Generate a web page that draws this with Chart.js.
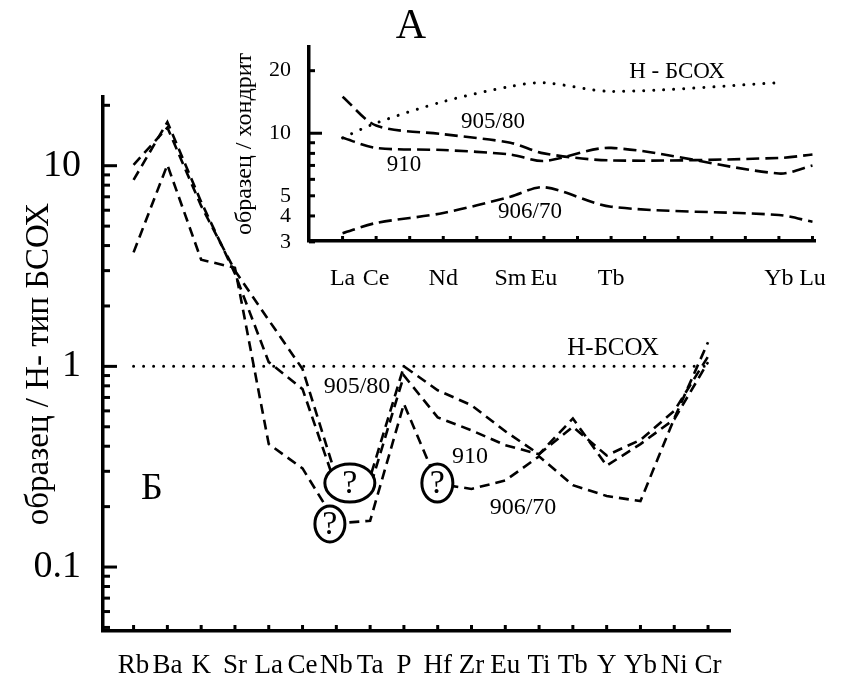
<!DOCTYPE html>
<html><head><meta charset="utf-8">
<script src="https://cdn.jsdelivr.net/npm/chart.js@4.4.1/dist/chart.umd.min.js"></script>
<style>
html,body{margin:0;padding:0;background:#fff;}
#wrap{position:relative;width:849px;height:690px;background:#fff;}
canvas{position:absolute;left:0;top:0;}
</style></head><body>
<div id="wrap"><canvas id="main" width="849" height="690"></canvas><canvas id="inset" width="849" height="690"></canvas></div>
<script>
// ---------- Main spidergram: sample / N-MORB ----------
const categories = ['Rb','Ba','K','Sr','La','Ce','Nb','Ta','P','Hf','Zr','Eu','Ti','Tb','Y','Yb','Ni','Cr'];
const sample905_80 = [10.1, 15.5, 6.3, 3.0, 1.7, 0.97, 0.28, 0.28, 1.0, 0.76, 0.64, 0.475, 0.365, 0.50, 0.36, 0.43, 0.60, 1.12];
const sample910    = [8.5, 16.5, 6.6, 2.9, 1.05, 0.77, 0.25, 0.25, 0.9, 0.557, 0.48, 0.405, 0.365, 0.55, 0.32, 0.41, 0.545, 1.05];
const sample906_70 = [3.7, 10.1, 3.4, 3.1, 0.41, 0.31, 0.165, 0.17, 0.65, 0.26, 0.245, 0.27, 0.356, 0.256, 0.226, 0.213, 0.55, 1.32];
const nmorbLevel   = [1, 1, 1, 1, 1, 1, 1, 1, 1, 1, 1, 1, 1, 1, 1, 1, 1, 1];
const mainYTicks   = [0.05, 0.06, 0.07, 0.08, 0.09, 0.1, 0.2, 0.3, 0.4, 0.5, 0.6, 0.7, 0.8, 0.9, 1, 2, 3, 4, 5, 6, 7, 8, 9, 10, 20];
const mainYLabels  = {'0.1': '0.1', '1': '1', '10': '10'};
const mainYMajor   = [0.1, 1, 10];

// ---------- Inset: sample / chondrite (REE) ----------
const reeAxis      = ['La','Ce','Pr','Nd','Pm','Sm','Eu','Gd','Tb','Dy','Ho','Er','Tm','Yb','Lu'];
const reeLabelled  = ['La','Ce','Nd','Sm','Eu','Tb','Yb','Lu'];
const ree905_80    = [15.0, 10.9, 9.9, 9.0, 8.0, 7.4, 7.6, 7.9];
const ree910       = [9.5, 8.5, 8.3, 7.9, 7.35, 8.5, 6.4, 7.0];
const ree906_70    = [3.3, 3.7, 4.13, 4.95, 5.5, 4.43, 4.04, 3.75];
const reeNMORB     = [9.5, 11.2, 14.2, 16.8, 17.5, 15.9, 17.5, null];
const insetYTicks  = [3, 4, 5, 6, 7, 8, 9, 10, 20];
const insetYLabels = {'3': '3', '4': '4', '5': '5', '10': '10', '20': '20'};

const SERIF = '"Liberation Serif", "Times New Roman", serif';

function pts(arr) { return arr.map((v, i) => ({x: i, y: v})); }
function reePts(arr) {
  return reeLabelled.map((el, j) => ({x: reeAxis.indexOf(el), y: arr[j]})).filter(p => p.y != null);
}
function dashed(label, data, dash, width, tension) {
  return {label, data, borderColor: '#000', borderWidth: width, borderDash: dash,
          pointRadius: 0, fill: false, tension: tension || 0, spanGaps: true, borderCapStyle: 'butt'};
}
function dotted(label, data, tension) {
  return {label, data, borderColor: '#000', borderWidth: 3, borderDash: [0.01, 10],
          borderCapStyle: 'round', pointRadius: 0, fill: false, tension: tension || 0, spanGaps: true};
}
function text(ctx, s, x, y, size) {
  ctx.save();
  ctx.fillStyle = '#000';
  ctx.font = size + 'px ' + SERIF;
  ctx.textAlign = 'center';
  ctx.textBaseline = 'middle';
  ctx.fillText(s, x, y);
  ctx.restore();
}

// ---- main chart decorations ----
const mainDeco = {
  id: 'mainDeco',
  afterDatasetsDraw(chart) {
    const {ctx, chartArea, scales: {x, y}} = chart;
    const marks = [
      {xi: 6.4, v: 0.262, rx: 25, ry: 19},
      {xi: 5.81, v: 0.164, rx: 15, ry: 18},
      {xi: 8.99, v: 0.262, rx: 15.5, ry: 19}
    ];
    marks.forEach(m => {
      const px = x.getPixelForValue(m.xi), py = y.getPixelForValue(m.v);
      ctx.save();
      ctx.beginPath();
      ctx.ellipse(px, py, m.rx, m.ry, 0, 0, Math.PI * 2);
      ctx.fillStyle = '#fff';
      ctx.fill();
      ctx.lineWidth = 3;
      ctx.strokeStyle = '#000';
      ctx.stroke();
      ctx.restore();
      text(ctx, '?', px, py + 1, 34);
    });
    ctx.save();
    ctx.strokeStyle = '#000';
    ctx.lineWidth = 3;
    y.ticks.forEach(t => {
      const py = y.getPixelForValue(t.value);
      const len = mainYMajor.includes(t.value) ? 14 : 7;
      ctx.beginPath(); ctx.moveTo(chartArea.left, py); ctx.lineTo(chartArea.left + len, py); ctx.stroke();
    });
    x.ticks.forEach(t => {
      const px = x.getPixelForValue(t.value);
      ctx.beginPath(); ctx.moveTo(px, chartArea.bottom); ctx.lineTo(px, chartArea.bottom - 6); ctx.stroke();
    });
    ctx.restore();
    text(ctx, '905/80', 357, 387, 24);
    text(ctx, '910', 470, 457, 24);
    text(ctx, '906/70', 523, 508, 24);
    text(ctx, 'Н-БСОХ', 613, 348, 25);
    text(ctx, 'Б', 152, 489, 38);
  }
};

new Chart(document.getElementById('main'), {
  type: 'line',
  data: {
    datasets: [
      dotted('Н-БСОХ', pts(nmorbLevel)),
      dashed('905/80', pts(sample905_80), [10, 6], 2.6),
      dashed('910', pts(sample910), [10, 6], 2.6),
      dashed('906/70', pts(sample906_70), [10, 6], 2.6)
    ]
  },
  options: {
    responsive: false, animation: false, devicePixelRatio: 1,
    layout: {padding: {left: 0, top: 97, right: 119, bottom: 0}},
    plugins: {legend: {display: false}, tooltip: {enabled: false}},
    scales: {
      x: {
        type: 'linear', min: -0.905, max: 17.65,
        afterBuildTicks: s => { s.ticks = categories.map((c, i) => ({value: i})); },
        afterFit: s => { s.height = 59; },
        grid: {display: true, drawOnChartArea: false, drawTicks: false},
        border: {display: true, width: 3.5, color: '#000'},
        ticks: {callback: v => categories[v] ?? '', autoSkip: false, maxRotation: 0, minRotation: 0,
                padding: 19, color: '#000', font: {family: SERIF, size: 27}}
      },
      y: {
        type: 'logarithmic', min: 0.048, max: 22,
        afterBuildTicks: s => { s.ticks = mainYTicks.map(v => ({value: v})); },
        afterFit: s => { s.width = 103; },
        grid: {display: true, drawOnChartArea: false, drawTicks: false},
        border: {display: true, width: 3.5, color: '#000'},
        ticks: {callback: v => mainYLabels[String(v)] ?? '', autoSkip: false, padding: 22,
                color: '#000', font: {family: SERIF, size: 38}},
        title: {display: true, text: 'образец / Н- тип БСОХ', color: '#000',
                font: {family: SERIF, size: 33}, padding: {top: 20, bottom: 0}}
      }
    }
  },
  plugins: [mainDeco]
});

// ---- inset decorations ----
const insetDeco = {
  id: 'insetDeco',
  afterDatasetsDraw(chart) {
    const {ctx, chartArea, scales: {x, y}} = chart;
    ctx.save();
    ctx.strokeStyle = '#000';
    ctx.lineWidth = 3;
    y.ticks.forEach(t => {
      const py = y.getPixelForValue(t.value);
      const len = t.value === 10 ? 13 : 6;
      ctx.beginPath(); ctx.moveTo(chartArea.left, py); ctx.lineTo(chartArea.left + len, py); ctx.stroke();
    });
    x.ticks.forEach(t => {
      const px = x.getPixelForValue(t.value);
      ctx.beginPath(); ctx.moveTo(px, chartArea.bottom); ctx.lineTo(px, chartArea.bottom - 5); ctx.stroke();
    });
    ctx.restore();
    text(ctx, 'А', 411, 27, 42);
    text(ctx, 'Н - БСОХ', 677, 72, 23);
    text(ctx, '905/80', 493, 122, 23);
    text(ctx, '910', 404, 165, 23);
    text(ctx, '906/70', 530, 212, 23);
  }
};

new Chart(document.getElementById('inset'), {
  type: 'line',
  data: {
    datasets: [
      dotted('Н - БСОХ', reePts(reeNMORB), 0.3),
      dashed('905/80', reePts(ree905_80), [13, 6], 2.6, 0.3),
      dashed('910', reePts(ree910), [13, 6], 2.6, 0.3),
      dashed('906/70', reePts(ree906_70), [13, 6], 2.6, 0.3)
    ]
  },
  options: {
    responsive: false, animation: false, devicePixelRatio: 1,
    layout: {padding: {left: 200, top: 47, right: 30, bottom: 389}},
    plugins: {legend: {display: false}, tooltip: {enabled: false}},
    scales: {
      x: {
        type: 'linear', min: -1.0, max: 14.1,
        afterBuildTicks: s => { s.ticks = reeAxis.map((c, i) => ({value: i})); },
        afterFit: s => { s.height = 60; },
        grid: {display: true, drawOnChartArea: false, drawTicks: false},
        border: {display: true, width: 3.5, color: '#000'},
        ticks: {callback: v => reeLabelled.includes(reeAxis[v]) ? reeAxis[v] : '', autoSkip: false,
                maxRotation: 0, minRotation: 0, padding: 23, color: '#000', font: {family: SERIF, size: 24}}
      },
      y: {
        type: 'logarithmic', min: 3.03, max: 26,
        afterBuildTicks: s => { s.ticks = insetYTicks.map(v => ({value: v})); },
        afterFit: s => { s.width = 109; },
        grid: {display: true, drawOnChartArea: false, drawTicks: false},
        border: {display: true, width: 3.5, color: '#000'},
        ticks: {callback: v => insetYLabels[String(v)] ?? '', autoSkip: false, padding: 18,
                color: '#000', font: {family: SERIF, size: 22}},
        title: {display: true, text: 'образец / хондрит', color: '#000',
                font: {family: SERIF, size: 24}, padding: {top: 30, bottom: 0}}
      }
    }
  },
  plugins: [insetDeco]
});
</script>
</body></html>
